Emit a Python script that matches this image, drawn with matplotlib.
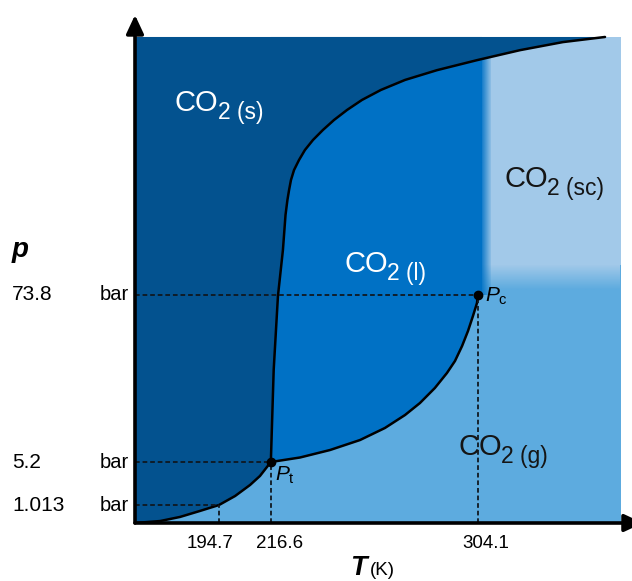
import numpy as np
import matplotlib
matplotlib.use("Agg")
import matplotlib.pyplot as plt
from matplotlib import transforms

plt.rcParams["font.family"] = ["Liberation Sans", "DejaVu Sans"]
plt.rcParams["mathtext.fontset"] = "custom"
plt.rcParams["mathtext.rm"] = "Liberation Sans"
plt.rcParams["mathtext.it"] = "Liberation Sans:italic"
plt.rcParams["mathtext.bf"] = "Liberation Sans:bold"

# Kennwerte (K, bar)
T_LABELS = [194.7, 216.6, 304.1]
P_LABELS = [1.013, 5.2, 73.8]
T_SUBL, P_SUBL = 194.7, 1.013
T_TRIPLE, P_TRIPLE = 216.6, 5.2
T_CRIT, P_CRIT = 304.1, 73.8

# Sublimationskurve
sub_T = [159.2, 169.8, 178.2, 186.7, 194.7, 201.5, 207.8, 212.0, 216.6]
sub_p = [0.0, 0.11, 0.34, 0.68, 1.013, 1.89, 2.96, 3.84, 5.2]

# Schmelzkurve
melt_T = [216.6, 217.8, 219.6, 221.7, 222.8, 223.6, 224.3, 225.1, 226.4,
          228.5, 231.0, 234.4, 238.6, 243.3, 248.8, 255.1, 263.1, 273.3,
          286.8, 303.7, 321.9, 340.0, 357.8]
melt_p = [5.2, 42.9, 73.2, 92.0, 106.4, 112.5, 116.6, 120.7, 124.8,
          128.9, 133.0, 137.1, 141.2, 145.3, 149.4, 153.5, 157.6, 161.7,
          165.7, 169.8, 173.9, 177.2, 179.3]

# Siedekurve
vap_T = [216.6, 228.9, 241.6, 254.3, 264.8, 273.3, 279.6, 285.9, 291.0,
         294.4, 297.4, 299.9, 302.0, 303.7, 304.1]
vap_p = [5.2, 7.04, 10.11, 14.21, 19.13, 24.45, 29.36, 35.51, 41.65,
         46.57, 52.71, 58.85, 65.0, 70.32, 73.8]

# Farben der Phasen
SOLID = "#03528f"
LIQUID = "#0071c5"
GAS = "#5dabdf"
SC = "#a2c9e9"
DASH = "#101820"

# Diagrammgrenzen
T0, T_END, T_MAX = 159.2, 364.5, 369.2
P_TOP, P_MAX = 179.3, 188.3
T_EDGE = 305.8          # rechte Kante der Fluessigphase
P_BAND = (75.6, 85.9)   # Uebergang Gas -> ueberkritisch

# schematische Druckachse (stueckweise linear)
P_KNOTS = [0.0, 1.013, 5.2, 73.8, 200.0]
H_KNOTS = [0.0, 18.0, 61.0, 228.5, 536.6]


def p_fwd(p):
    return np.interp(p, P_KNOTS, H_KNOTS)


def p_inv(h):
    return np.interp(h, H_KNOTS, P_KNOTS)


def phase_label(x, y, sub, color):
    # "CO" plus groesserer Index als eigener Text
    t = ax.text(x, y, "CO", color=color, fontsize=21, ha="left",
                va="baseline", zorder=6)
    ax.annotate(sub, xy=(1, 0), xycoords=t, xytext=(-0.8, -1.3),
                textcoords="offset points", color=color, fontsize=16.5,
                ha="left", va="baseline", zorder=6)


fig = plt.figure(figsize=(6.32, 5.81), dpi=100)
ax = fig.add_axes([135 / 632, 58 / 581, 497 / 632, 508 / 581])
ax.set_yscale("function", functions=(p_fwd, p_inv))

# Gas-Hintergrund und ueberkritischer Bereich
ax.fill([T0, T_END, T_END, T0], [0, 0, P_TOP, P_TOP], color=GAS, lw=0, zorder=1)
ax.fill([T_CRIT, T_END, T_END, T_CRIT], [P_BAND[1], P_BAND[1], P_TOP, P_TOP],
        color=SC, lw=0, zorder=1.1)

gas_rgb = np.array(matplotlib.colors.to_rgb(GAS))
sc_rgb = np.array(matplotlib.colors.to_rgb(SC))
w = np.linspace(0, 1, 64)[:, None, None]
band = gas_rgb * (1 - w) + sc_rgb * w
band = np.repeat(band, 2, axis=1)
ax.imshow(band, extent=[T_CRIT, T_END, P_BAND[0], P_BAND[1]], origin="lower",
          aspect="auto", interpolation="bilinear", zorder=1.2)

# Fluessigphase
liq_T = [T_TRIPLE, T_TRIPLE, T_EDGE, T_EDGE] + vap_T[::-1]
liq_p = [P_TRIPLE, P_TOP, P_TOP, P_CRIT] + vap_p[::-1]
ax.fill(liq_T, liq_p, color=LIQUID, lw=0, zorder=2)

fade = np.zeros((1, 64, 4))
fade[..., :3] = matplotlib.colors.to_rgb(LIQUID)
fade[..., 3] = np.linspace(1, 0, 64)
ax.imshow(fade, extent=[305.0, 310.0, P_CRIT, P_TOP], origin="lower",
          aspect="auto", interpolation="bilinear", zorder=2.1)

# Festphase
sol_T = sub_T + melt_T[1:] + [T0]
sol_p = sub_p + melt_p[1:] + [P_TOP]
ax.fill(sol_T, sol_p, color=SOLID, lw=0, zorder=3)

# Phasengrenzen
for xs, ys in [(sub_T, sub_p), (melt_T, melt_p), (vap_T, vap_p)]:
    ax.plot(xs, ys, color="black", lw=1.8, zorder=4,
            solid_capstyle="round", solid_joinstyle="round")

# Hilfslinien
dash_kw = dict(color=DASH, lw=1.3, dashes=(2.6, 1.6), zorder=4.5)
for t, p in [(T_SUBL, P_SUBL), (T_TRIPLE, P_TRIPLE), (T_CRIT, P_CRIT)]:
    ax.plot([T0, t], [p, p], **dash_kw)
    ax.plot([t, t], [0, p], **dash_kw)

ax.plot([T_TRIPLE, T_CRIT], [P_TRIPLE, P_CRIT], "o", color="black", ms=6, zorder=5)

ax.annotate(r"$P_\mathrm{t}$", xy=(T_TRIPLE, P_TRIPLE), xytext=(3, -2),
            textcoords="offset points", ha="left", va="top", fontsize=15, zorder=6)
ax.annotate(r"$P_\mathrm{c}$", xy=(T_CRIT, P_CRIT), xytext=(5, 6),
            textcoords="offset points", ha="left", va="top", fontsize=15, zorder=6)

ax.set_xlim(T0, T_MAX)
ax.set_ylim(0, P_MAX)
ax.axis("off")

# Phasenbeschriftungen
phase_label(176.1, 148.9, "2 (s)", "white")
phase_label(247.9, 83.0, "2 (l)", "white")
phase_label(315.5, 117.8, "2 (sc)", "#151515")
phase_label(295.7, 8.07, "2 (g)", "#151515")

# Achsen mit Pfeilen
arrow_kw = dict(arrowstyle="-|>,head_length=0.75,head_width=0.35", color="black",
                lw=2.6, mutation_scale=15, shrinkA=0, shrinkB=0)
ax.annotate("", xy=(0, 1), xytext=(0, 0), xycoords="axes fraction",
            arrowprops=arrow_kw, annotation_clip=False, zorder=7)
ax.annotate("", xy=(1.022, 0), xytext=(0, 0), xycoords="axes fraction",
            arrowprops=arrow_kw, annotation_clip=False, zorder=7)

# Druckwerte links
trans = transforms.blended_transform_factory(fig.transFigure, ax.transData)
for p in P_LABELS:
    ax.text(12 / 632, p, f"{p:g}", transform=trans, fontsize=15,
            ha="left", va="center")
    ax.text(129 / 632, p, "bar", transform=trans, fontsize=14.5,
            ha="right", va="center")
fig.text(12 / 632, 1 - 257 / 581, "p", fontsize=20, fontweight="bold",
         style="italic", ha="left", va="baseline")

# Temperaturwerte unten
for t, dx in zip(T_LABELS, [-6.5, 6, 6]):
    ax.annotate(f"{t:g}", xy=(t, 0), xycoords=("data", "axes fraction"),
                xytext=(dx, -14.5), textcoords="offset points",
                ha="center", va="center", fontsize=13.5)
fig.text(350 / 632, 1 - 575 / 581, "T", fontsize=19.5, fontweight="bold",
         style="italic", ha="left", va="baseline")
fig.text(370 / 632, 1 - 575 / 581, "(K)", fontsize=13.5, ha="left", va="baseline")

fig.savefig("out.png", dpi=100)
